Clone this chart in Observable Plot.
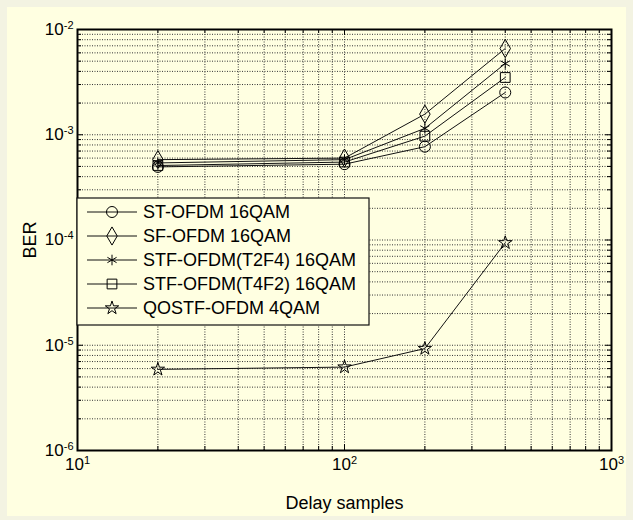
<!DOCTYPE html>
<html><head><meta charset="utf-8">
<script src="https://cdn.jsdelivr.net/npm/d3@7"></script>
<script src="https://cdn.jsdelivr.net/npm/@observablehq/plot@0.6"></script>
<style>
body{margin:0;background:#f3f3e2;}
#wrap{position:absolute;left:7px;top:7px;width:619px;height:509px;background:#ffffe1;}
svg{overflow:visible}
</style></head><body><div id="wrap"></div>
<script>
const delays = [20, 100, 200, 400];
const seriesNames = ["ST-OFDM 16QAM", "SF-OFDM 16QAM", "STF-OFDM(T2F4) 16QAM", "STF-OFDM(T4F2) 16QAM", "QOSTF-OFDM 4QAM"];
const berST   = [4.95e-4, 5.25e-4, 7.7e-4, 2.52e-3];
const berSF   = [5.8e-4, 6.0e-4, 1.57e-3, 6.6e-3];
const berT2F4 = [5.4e-4, 5.8e-4, 1.15e-3, 4.75e-3];
const berT4F2 = [5.1e-4, 5.5e-4, 9.7e-4, 3.5e-3];
const berQO   = [5.9e-6, 6.2e-6, 9.3e-6, 9.4e-5];
const symbolTypes = ["circle", "diamond", "asterisk", "square", "star"];
const symbolRadius = [5.5, 5.5, 5, 5.5, 4.2];
const xMajor = [10, 100, 1000];
const yMajor = [1e-6, 1e-5, 1e-4, 1e-3, 1e-2];

const allSeries = [berST, berSF, berT2F4, berT4F2, berQO];
const rows = [];
allSeries.forEach((vals, i) => vals.forEach((v, j) => rows.push({series: seriesNames[i], delay: delays[j], ber: v, k: i})));

const xGrid = d3.scaleLog().domain([10, 1000]).ticks();
const yGrid = d3.scaleLog().domain([1e-6, 1e-2]).ticks();
const isMajor = (arr, d) => arr.some(m => Math.abs(m - d) / m < 1e-9);
const xMinor = xGrid.filter(d => !isMajor(xMajor, d));
const yMinor = yGrid.filter(d => !isMajor(yMajor, d));
const powLabel = d => "10^" + Math.round(Math.log10(d));

const W = 619, H = 509, ml = 70, mr = 15, mt = 22, mb = 66;
const fw = W - ml - mr, fh = H - mt - mb;
const gridStyle = {stroke: "#333", strokeOpacity: 1, strokeWidth: 1, strokeDasharray: "1,1.5"};

const chart = Plot.plot({
  width: W, height: H, marginLeft: ml, marginRight: mr, marginTop: mt, marginBottom: mb,
  style: {background: "transparent", fontFamily: "'Liberation Sans', Arial, sans-serif", fontSize: "17px", color: "#000"},
  x: {type: "log", domain: [10, 1000]},
  y: {type: "log", domain: [1e-6, 1e-2]},
  symbol: {domain: seriesNames, range: symbolTypes},
  marks: [
    Plot.gridX(xGrid, gridStyle),
    Plot.gridY(yGrid, gridStyle),
    Plot.tickX(xMajor, {x: d => d, insetTop: fh - 6, stroke: "#000"}),
    Plot.tickX(xMajor, {x: d => d, insetBottom: fh - 6, stroke: "#000"}),
    Plot.tickX(xMinor, {x: d => d, insetTop: fh - 4, stroke: "#000"}),
    Plot.tickX(xMinor, {x: d => d, insetBottom: fh - 4, stroke: "#000"}),
    Plot.tickY(yMajor, {y: d => d, insetRight: fw - 6, stroke: "#000"}),
    Plot.tickY(yMajor, {y: d => d, insetLeft: fw - 6, stroke: "#000"}),
    Plot.tickY(yMinor, {y: d => d, insetRight: fw - 4, stroke: "#000"}),
    Plot.tickY(yMinor, {y: d => d, insetLeft: fw - 4, stroke: "#000"}),
    Plot.axisX({ticks: xMajor, tickSize: 0, tickPadding: 7, tickFormat: powLabel,
      label: "Delay samples", labelAnchor: "center", labelArrow: "none", labelOffset: 58}),
    Plot.axisY({ticks: yMajor, tickSize: 0, tickPadding: 4, tickFormat: powLabel,
      label: "BER", labelAnchor: "center", labelArrow: "none", labelOffset: 54}),
    Plot.line(rows, {x: "delay", y: "ber", z: "series", stroke: "#111", strokeWidth: 1}),
    ...symbolTypes.map((s, i) => Plot.dot(rows, {filter: d => d.k === i, x: "delay", y: "ber", symbol: "series", r: symbolRadius[i], stroke: "#000", fill: "none", strokeWidth: 1})),
    Plot.frame({stroke: "#000", strokeWidth: 2})
  ]
});

document.getElementById("wrap").appendChild(chart);
const svg = d3.select(chart);
svg.selectAll('g[aria-label="x-axis tick label"] text, g[aria-label="y-axis tick label"] text').each(function () {
  const t = this.textContent;
  if (!t.includes("^")) return;
  const [b, e] = t.split("^");
  const s = d3.select(this);
  s.style("font-size", "17px");
  s.text(b);
  s.append("tspan").attr("dy", "-0.55em").style("font-size", "11px").text(e);
});
svg.selectAll('g[aria-label="x-axis label"] text, g[aria-label="y-axis label"] text').style("font-size", "18px");

// legend
const lg = svg.append("g").style("font-size", "18px").attr("font-family", "'Liberation Sans', Arial, sans-serif").attr("text-anchor", "start");
const lx = ml, ly = 191, lw = 292, lh = 127;
lg.append("rect").attr("x", lx).attr("y", ly).attr("width", lw).attr("height", lh)
  .attr("fill", "#ffffe1").attr("stroke", "#111").attr("stroke-width", 1.2);
const symMap = {circle: d3.symbolCircle, diamond: d3.symbolDiamond, asterisk: d3.symbolAsterisk, square: d3.symbolSquare, star: d3.symbolStar};
seriesNames.forEach((name, i) => {
  const y = ly + 14 + i * 24;
  lg.append("line").attr("x1", lx + 10).attr("x2", lx + 60).attr("y1", y).attr("y2", y).attr("stroke", "#111");
  lg.append("path").attr("d", d3.symbol(symMap[symbolTypes[i]], symbolRadius[i] * symbolRadius[i] * Math.PI)())
    .attr("transform", `translate(${lx + 35},${y})`).attr("fill", "none").attr("stroke", "#000");
  lg.append("text").attr("x", lx + 66).attr("y", y).attr("dy", "0.35em").attr("text-anchor", "start").style("font-size", "18px").text(name);
});
</script></body></html>
